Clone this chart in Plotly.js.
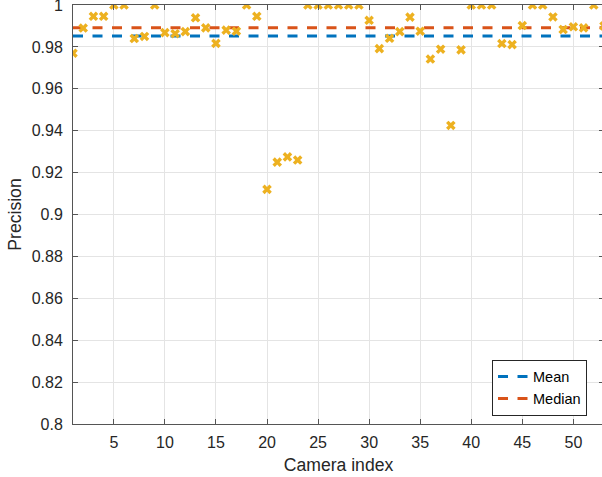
<!DOCTYPE html>
<html>
<head>
<meta charset="utf-8">
<script src="https://cdn.plot.ly/plotly-3.0.1.min.js"></script>
<style>
html,body{margin:0;padding:0;overflow:hidden;background:#fff;}
#chart{width:604px;height:477px;}
</style>
</head>
<body>
<div id="chart"></div>
<script>
// Camera indices 1..53
const cameraIndex = [1,2,3,4,5,6,7,8,9,10,11,12,13,14,15,16,17,18,19,20,21,22,23,24,25,26,27,28,29,30,31,32,33,34,35,36,37,38,39,40,41,42,43,44,45,46,47,48,49,50,51,52,53];
// Precision per camera
const precision = [0.977,0.989,0.9946,0.9946,1,1,0.984,0.985,1,0.9868,0.9863,0.9873,0.9939,0.9891,0.9817,0.988,0.9875,1,0.9946,0.912,0.925,0.9275,0.926,1,1,1,1,1,1,0.9927,0.9792,0.9841,0.9873,0.9942,0.9875,0.9742,0.9789,0.9425,0.9786,1,1,1,0.9816,0.9811,0.9902,1,1,0.9943,0.9883,0.9896,0.9891,1,0.990];
const meanValue = 0.9852;
const medianValue = 0.9891;
const lineSpan = [1, 53];
const legendNames = ['Mean', 'Median'];
const xTickVals = [5, 10, 15, 20, 25, 30, 35, 40, 45, 50];
const yTickVals = [0.8, 0.82, 0.84, 0.86, 0.88, 0.9, 0.92, 0.94, 0.96, 0.98, 1];
const yTickText = ['0.8', '0.82', '0.84', '0.86', '0.88', '0.9', '0.92', '0.94', '0.96', '0.98', '1'];

const traces = [
  {
    x: lineSpan, y: [meanValue, meanValue], mode: 'lines', name: legendNames[0],
    line: {color: '#0072BD', width: 3, dash: '10px,9.5px'}
  },
  {
    x: lineSpan, y: [medianValue, medianValue], mode: 'lines', name: legendNames[1],
    line: {color: '#D95319', width: 3, dash: '10px,9.5px'}
  },
  {
    x: cameraIndex, y: precision, mode: 'markers', showlegend: false,
    marker: {symbol: 'x', size: 8.5, color: '#EDB120', line: {width: 0}},
    cliponaxis: true
  }
];

const axisCommon = {
  showline: true, linecolor: '#555555', linewidth: 1, mirror: 'ticks',
  ticks: 'inside', ticklen: 5, tickcolor: '#555555', tickwidth: 1,
  showgrid: true, gridcolor: '#e4e4e4', gridwidth: 1, zeroline: false,
  ticklabeloverflow: 'allow',
  tickfont: {family: 'Liberation Sans, Arial, sans-serif', size: 16, color: '#262626'}
};

const layout = {
  width: 604, height: 477,
  margin: {l: 73, r: 0, t: 5, b: 53},
  paper_bgcolor: '#ffffff', plot_bgcolor: '#ffffff',
  showlegend: true,
  xaxis: Object.assign({}, axisCommon, {
    range: [1, 53], tickmode: 'array', tickvals: xTickVals,
    ticklabelstandoff: 4,
    title: {text: 'Camera index', font: {family: 'Liberation Sans, Arial, sans-serif', size: 17.6, color: '#262626'}, standoff: 8}
  }),
  yaxis: Object.assign({}, axisCommon, {
    range: [0.8, 1], tickmode: 'array', tickvals: yTickVals, ticktext: yTickText,
    ticklabelstandoff: 6,
    title: {text: 'Precision', font: {family: 'Liberation Sans, Arial, sans-serif', size: 17.6, color: '#262626'}, standoff: 5}
  }),
  legend: {
    x: 0.968, y: 0.02, xanchor: 'right', yanchor: 'bottom',
    bgcolor: '#ffffff', bordercolor: '#262626', borderwidth: 1,
    font: {family: 'Liberation Sans, Arial, sans-serif', size: 14.5, color: '#000000'},
    itemwidth: 30, tracegroupgap: 0, entrywidth: 95, entrywidthmode: 'pixels'
  }
};

Plotly.newPlot('chart', traces, layout, {displayModeBar: false, staticPlot: true});
</script>
</body>
</html>
